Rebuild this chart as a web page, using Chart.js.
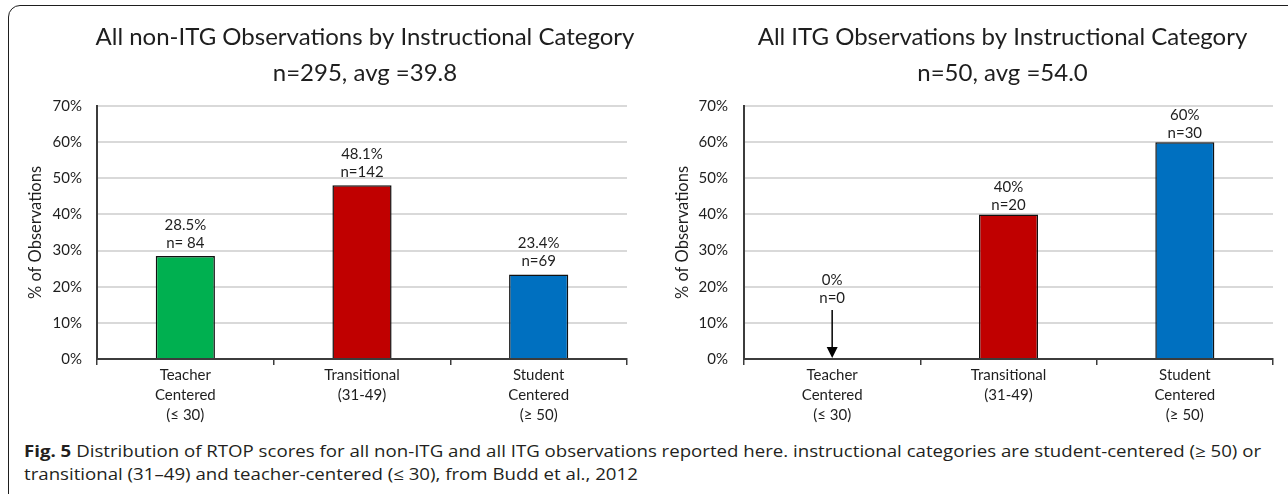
<!DOCTYPE html>
<html><head><meta charset="utf-8">
<script src="https://cdn.jsdelivr.net/npm/chart.js@4/dist/chart.umd.min.js"></script>
<style>
html,body{margin:0;padding:0;background:#fff;}
body{width:1288px;height:494px;position:relative;overflow:hidden;}
#frame{position:absolute;left:8px;top:5px;width:1300px;height:520px;border:1.5px solid #1e1e1e;border-radius:12px;box-sizing:border-box;}
#c1{position:absolute;left:0;top:0;}
#c2{position:absolute;left:644px;top:0;}
.cap{position:absolute;left:24px;white-space:nowrap;font-family:'Open Sans',sans-serif;font-size:16px;line-height:20px;color:#231f20;transform-origin:0 50%;}
</style></head>
<body>
<div id="frame"></div>
<canvas id="c1" width="640" height="440"></canvas>
<canvas id="c2" width="644" height="440"></canvas>
<div class="cap" id="cap1" style="top:441px"><b>Fig. 5</b> Distribution of RTOP scores for all non-ITG and all ITG observations reported here. instructional categories are student-centered (≥ 50) or</div>
<div class="cap" id="cap2" style="top:464px">transitional (31–49) and teacher-centered (≤ 30), from Budd et al., 2012</div>
<script>
// ---- data ----
const categories = [['Teacher', 'Centered', '(≤ 30)'], ['Transitional', '(31-49)'], ['Student', 'Centered', '(≥ 50)']];
const nonItgTitle = ['All non-ITG Observations by Instructional Category', 'n=295, avg =39.8'];
const nonItgPercent = [28.5, 48.1, 23.4];
const nonItgPercentLabels = ['28.5%', '48.1%', '23.4%'];
const nonItgCountLabels = ['n= 84', 'n=142', 'n=69'];
const itgTitle = ['All ITG Observations by Instructional Category', 'n=50, avg =54.0'];
const itgPercent = [0, 40, 60];
const itgPercentLabels = ['0%', '40%', '60%'];
const itgCountLabels = ['n=0', 'n=20', 'n=30'];
const yAxisTitle = '% of Observations';
const yMin = 0, yMax = 70, yStep = 10;
const barColors = ['#00B050', '#C00000', '#0070C0'];

const TEXT = '#1e1e1e';
const AXIS = '#3c3c3c';
const FONT = 'Lato, "Open Sans", sans-serif';

const centerTitle = {
  id: 'centerTitle',
  afterDraw(chart, args, o) {
    const ctx = chart.ctx, ca = chart.chartArea;
    ctx.save();
    ctx.font = o.size + 'px ' + FONT;
    ctx.fillStyle = TEXT;
    ctx.textAlign = 'center';
    ctx.textBaseline = 'middle';
    const cx = (ca.left + ca.right) / 2 + o.dx;
    o.lines.forEach((t, i) => ctx.fillText(t, cx, o.ys[i]));
    ctx.restore();
  }
};

const valueLabels = {
  id: 'valueLabels',
  afterDatasetsDraw(chart, args, o) {
    const ctx = chart.ctx;
    const meta = chart.getDatasetMeta(0);
    const data = chart.data.datasets[0].data;
    const base = chart.scales.y.getPixelForValue(0);
    ctx.save();
    ctx.font = '15px ' + FONT;
    ctx.fillStyle = TEXT;
    ctx.textAlign = 'center';
    ctx.textBaseline = 'middle';
    meta.data.forEach((bar, i) => {
      if (data[i] === 0) {
        ctx.fillText(o.pct[i], bar.x, base - 79);
        ctx.fillText(o.cnt[i], bar.x, base - 61);
        ctx.strokeStyle = '#000';
        ctx.lineWidth = 1.5;
        ctx.beginPath();
        ctx.moveTo(bar.x, base - 49);
        ctx.lineTo(bar.x, base - 10);
        ctx.stroke();
        ctx.fillStyle = '#000';
        ctx.beginPath();
        ctx.moveTo(bar.x - 5.5, base - 12);
        ctx.lineTo(bar.x + 5.5, base - 12);
        ctx.lineTo(bar.x, base - 1);
        ctx.closePath();
        ctx.fill();
        ctx.fillStyle = TEXT;
      } else {
        ctx.fillText(o.pct[i], bar.x, bar.y - o.gap - 18);
        ctx.fillText(o.cnt[i], bar.x, bar.y - o.gap);
      }
    });
    ctx.restore();
  }
};

function makeChart(id, values, pctLabels, cntLabels, title, cfg) {
  return new Chart(document.getElementById(id), {
    type: 'bar',
    data: {
      labels: categories,
      datasets: [{
        data: values,
        backgroundColor: barColors,
        borderColor: '#111',
        borderWidth: 1.5,
        borderSkipped: 'bottom',
        categoryPercentage: 1,
        barPercentage: 0.335
      }]
    },
    options: {
      responsive: false,
      animation: false,
      events: [],
      layout: { padding: { left: 0, right: cfg.padRight, top: 106, bottom: 0 } },
      plugins: {
        legend: { display: false },
        tooltip: { enabled: false },
        title: { display: false },
        centerTitle: { lines: title, ys: [37, 73], size: 24, dx: cfg.titleDx },
        valueLabels: { pct: pctLabels, cnt: cntLabels, gap: cfg.gap }
      },
      scales: {
        x: {
          offset: true,
          grid: { display: true, drawOnChartArea: false, drawTicks: true, tickLength: 6, offset: true, color: AXIS, lineWidth: 1.5 },
          border: { display: true, color: AXIS, width: 2 },
          ticks: { color: TEXT, font: { family: FONT, size: 15, lineHeight: '20px' }, padding: 0, maxRotation: 0, autoSkip: false },
          afterFit: s => { s.height = 440 - 359; }
        },
        y: {
          min: yMin, max: yMax,
          ticks: { stepSize: yStep, color: TEXT, font: { family: FONT, size: 15 }, padding: cfg.tickPad, callback: v => v + '%' },
          grid: { color: '#d9d9d9', lineWidth: 2, drawTicks: false },
          border: { display: true, color: AXIS, width: 2 },
          title: { display: true, text: yAxisTitle, color: TEXT, font: { family: FONT, size: 16.5, lineHeight: 1.2 }, padding: { top: cfg.titlePad, bottom: 0 } },
          afterFit: s => { s.width = cfg.axisX; }
        }
      }
    },
    plugins: [centerTitle, valueLabels]
  });
}

makeChart('c1', nonItgPercent, nonItgPercentLabels, nonItgCountLabels, nonItgTitle,
  { padRight: 13, axisX: 97, tickPad: 15, titlePad: 26, gap: 13, titleDx: 3 });
makeChart('c2', itgPercent, itgPercentLabels, itgCountLabels, itgTitle,
  { padRight: 15, axisX: 100, tickPad: 16, titlePad: 29, gap: 9, titleDx: -6 });

// fit caption to the reference line width
const c1 = document.getElementById('cap1'), c2 = document.getElementById('cap2');
const sc = 1237 / c1.getBoundingClientRect().width;
c1.style.transform = 'scaleX(' + sc + ')';
c2.style.transform = 'scaleX(' + sc + ')';
</script>
</body></html>
